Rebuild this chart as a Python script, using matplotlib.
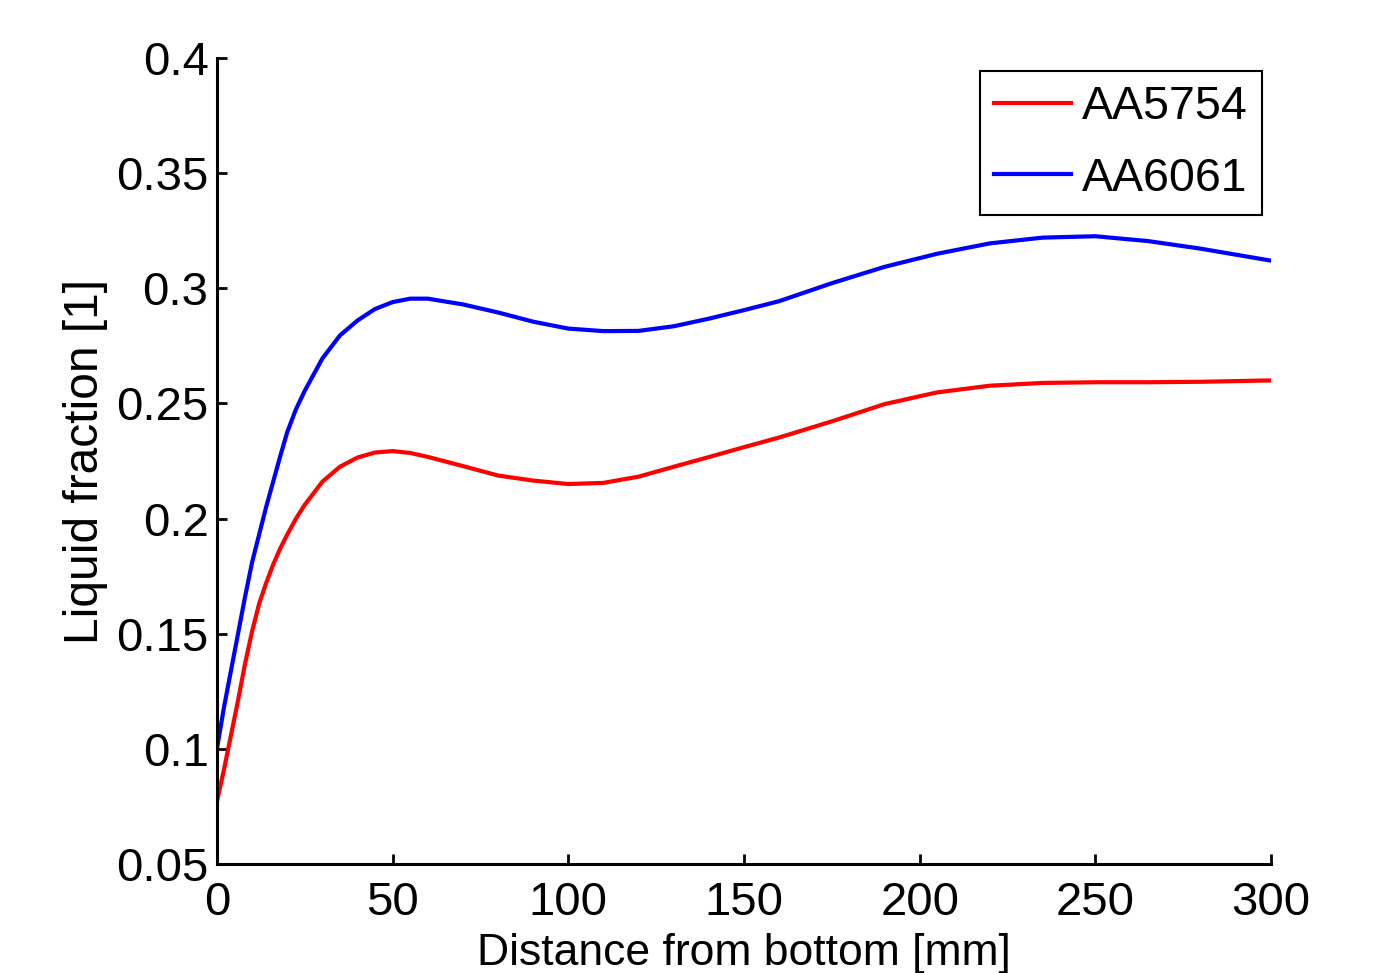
import matplotlib
matplotlib.use("Agg")
import matplotlib.pyplot as plt
import numpy as np

# distance from bottom [mm]
distance = [0, 2, 4, 6, 8, 10, 12, 14, 16, 18, 20, 22.5, 25, 30, 35, 40, 45, 50, 55, 60, 70, 80, 90,
            100, 110, 120, 130, 140, 150, 160, 175, 190, 205, 220, 235, 250, 265, 280, 300]

# liquid fraction
aa5754 = [0.077, 0.091, 0.106, 0.121, 0.137, 0.151, 0.163, 0.172, 0.180, 0.187, 0.193,
          0.200, 0.206, 0.216, 0.2225, 0.2265,
          0.2287, 0.2293, 0.2285, 0.2268, 0.2228, 0.2187, 0.2165, 0.2150, 0.2155, 0.2182,
          0.2225, 0.2267, 0.2310, 0.2352, 0.2422, 0.2497, 0.2548, 0.2577, 0.2589, 0.2592,
          0.2592, 0.2594, 0.2600]
aa6061 = [0.100, 0.118, 0.134, 0.150, 0.166, 0.181, 0.193, 0.205, 0.216, 0.227, 0.2375,
          0.2475, 0.2555, 0.2695, 0.2795, 0.2860,
          0.2910, 0.2940, 0.2955, 0.2955, 0.2930, 0.2895, 0.2855, 0.2825, 0.2814, 0.2815,
          0.2835, 0.2868, 0.2905, 0.2944, 0.3022, 0.3093, 0.3150, 0.3195, 0.3220, 0.3226,
          0.3205, 0.3172, 0.3120]

x_ticks = [0, 50, 100, 150, 200, 250, 300]
y_ticks = [0.05, 0.1, 0.15, 0.2, 0.25, 0.3, 0.35, 0.4]
y_tick_labels = ["0.05", "0.1", "0.15", "0.2", "0.25", "0.3", "0.35", "0.4"]

plt.rcParams['font.family'] = ['Liberation Sans', 'DejaVu Sans']

fig = plt.figure(figsize=(13.73, 9.73), dpi=100)
ax = fig.add_axes([0.158, 0.112, 0.7677, 0.8284])

ax.plot(distance, aa5754, color='red', lw=3, label='AA5754')
ax.plot(distance, aa6061, color='blue', lw=3, label='AA6061')

ax.set_xlim(0, 300)
ax.set_ylim(0.05, 0.4)
ax.set_xticks(x_ticks)
ax.set_yticks(y_ticks)
ax.set_yticklabels(y_tick_labels)

for side in ['top', 'right']:
    ax.spines[side].set_visible(False)
for side in ['left', 'bottom']:
    ax.spines[side].set_linewidth(2.2)

ax.tick_params(direction='in', length=7, width=2, labelsize=34, pad=6)
ax.tick_params(axis='x', pad=12)

ax.set_xlabel('Distance from bottom [mm]', fontsize=32, labelpad=6)
ax.set_ylabel('Liquid fraction [1]', fontsize=34.5, labelpad=6)

leg = ax.legend(loc='upper right', bbox_to_anchor=(0.9915, 0.984), borderaxespad=0,
                fontsize=33.5, fancybox=False, framealpha=1, edgecolor='black',
                handlelength=1.65, handletextpad=0.25, borderpad=0.3, labelspacing=0.6)
leg.get_frame().set_linewidth(1.5)

fig.savefig('out.png', dpi=100)
